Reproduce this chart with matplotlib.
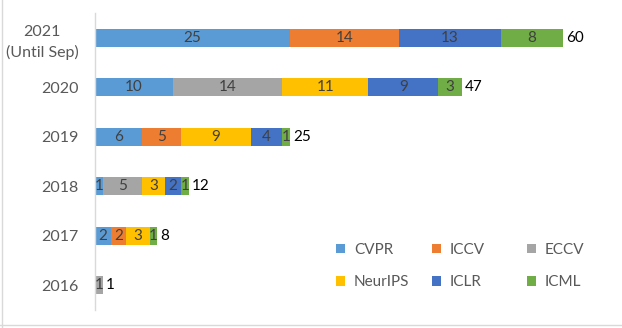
import matplotlib.pyplot as plt
from matplotlib.lines import Line2D
import numpy as np

plt.rcParams['font.family'] = ['Lato', 'DejaVu Sans']

years = ["2016", "2017", "2018", "2019", "2020", "2021\n(Until Sep)"]
series = ["CVPR", "ICCV", "ECCV", "NeurIPS", "ICLR", "ICML"]
cvpr    = [0, 2, 1, 6, 10, 25]
iccv    = [0, 2, 0, 5, 0, 14]
eccv    = [1, 0, 5, 0, 14, 0]
neurips = [0, 3, 3, 9, 11, 0]
iclr    = [0, 0, 2, 4, 9, 13]
icml    = [0, 1, 1, 1, 3, 8]
colors = ["#5B9BD5", "#ED7D31", "#A5A5A5", "#FFC000", "#4472C4", "#70AD47"]

data = [cvpr, iccv, eccv, neurips, iclr, icml]

W, H = 622, 328
fig = plt.figure(figsize=(W/100, H/100), dpi=100)
ax = fig.add_axes([95/W, 1-310/H, 515/W, (310-13)/H])

y = np.arange(len(years))
left = np.zeros(len(years))
handles = []
for name, vals, c in zip(series, data, colors):
    vals = np.array(vals, dtype=float)
    b = ax.barh(y, vals, left=left, height=0.37, color=c, label=name)
    handles.append(b)
    for yi, (v, l) in enumerate(zip(vals, left)):
        if v > 0:
            ax.text(l + v/2, yi, f"{int(v)}", ha="center", va="center",
                    fontsize=11, color="#404040")
    left += vals

for yi, tot in enumerate(left):
    ax.text(tot + 0.35, yi, f"{int(tot)}", ha="left", va="center",
            fontsize=11, color="black")

ax.set_xlim(0, 66)
ax.set_ylim(-0.5, 5.5)
ax.set_yticks(y)
ax.set_yticklabels(years, fontsize=11.5, color="#595959",
                   multialignment="center", linespacing=1.55)
ax.tick_params(axis="y", length=0, pad=12)
ax.set_xticks([])
for s in ["top", "right", "bottom"]:
    ax.spines[s].set_visible(False)
ax.spines["left"].set_color("#D9D9D9")
ax.spines["left"].set_linewidth(1)

# legend: three columns, placed individually for even spacing
col_x = [322, 418, 513]
for ci in range(3):
    idx = [ci, ci + 3]
    fig.legend(handles=[handles[i] for i in idx],
               labels=[series[i] for i in idx], ncol=1, loc="upper left",
               bbox_to_anchor=(col_x[ci]/W, 1-229/H), frameon=False,
               fontsize=11, handlelength=0.6, handleheight=0.6,
               handletextpad=0.6, labelspacing=1.2, labelcolor="#595959")

fig.add_artist(Line2D([1.5/W, 1.5/W], [0, 1], transform=fig.transFigure,
                      color="#D9D9D9", linewidth=1))
fig.add_artist(Line2D([0, 1], [3.5/H, 3.5/H], transform=fig.transFigure,
                      color="#D9D9D9", linewidth=1))
fig.savefig("out.png", dpi=100)
